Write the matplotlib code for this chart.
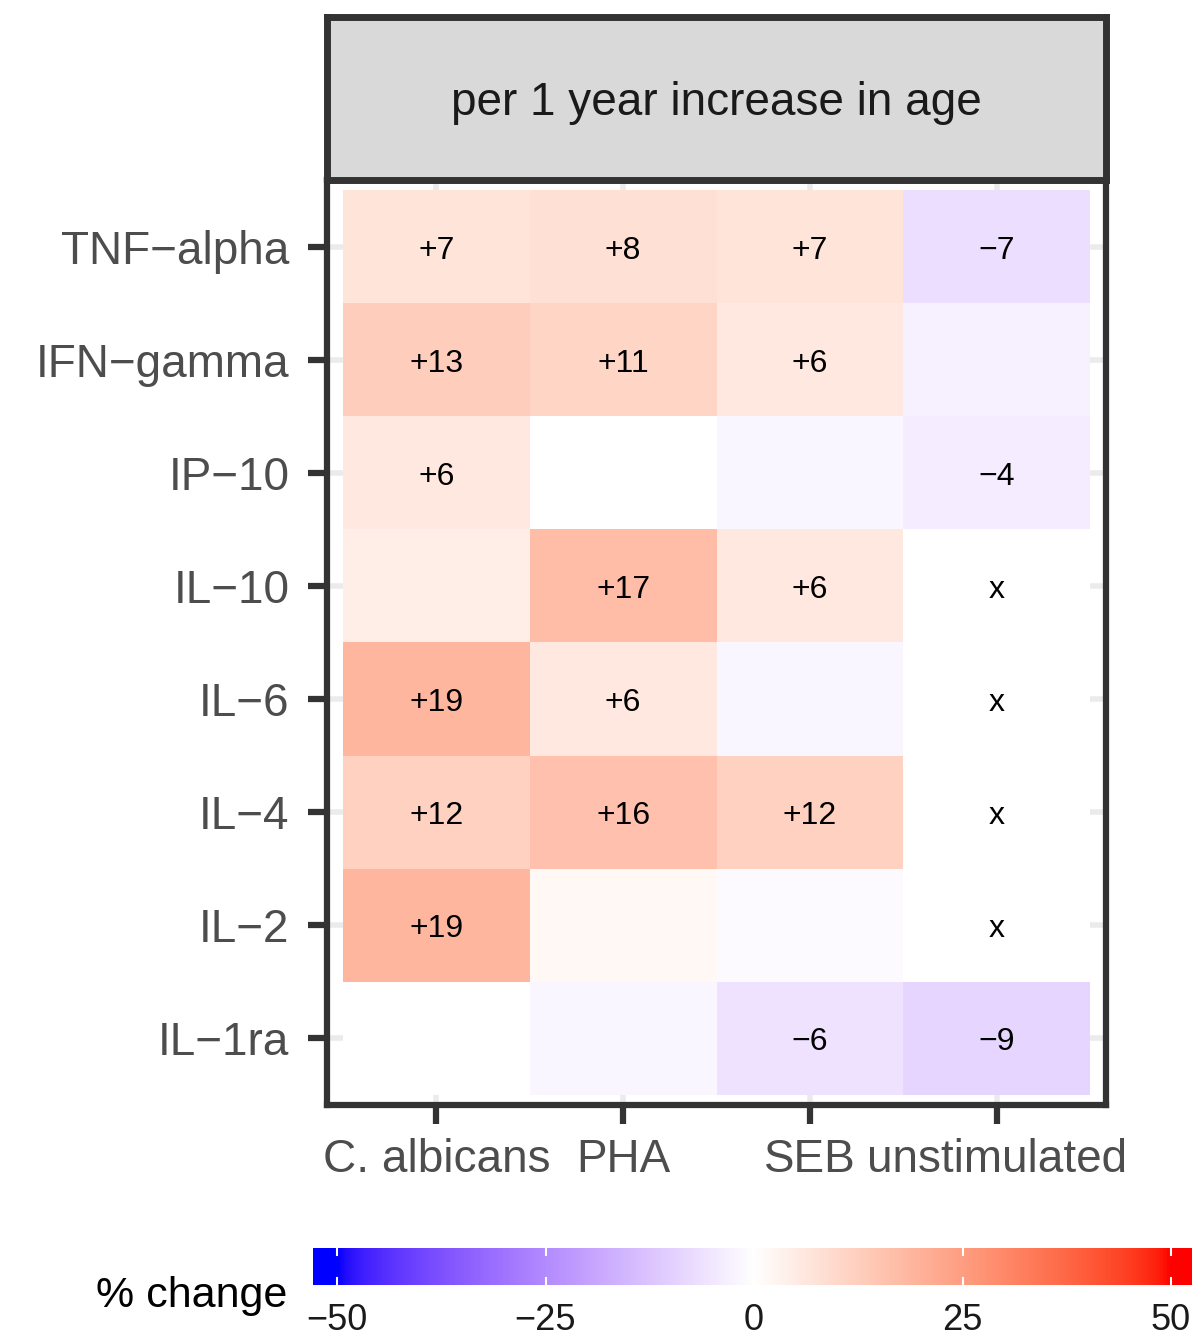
import numpy as np
import matplotlib
matplotlib.use("Agg")
import matplotlib.pyplot as plt
from matplotlib.colors import ListedColormap, Normalize

plt.rcParams['font.family'] = ['Liberation Sans', 'DejaVu Sans']

# ---------------- data ----------------
stimuli = ["C. albicans", "PHA", "SEB", "unstimulated"]
cytokines = ["TNF\u2212alpha", "IFN\u2212gamma", "IP\u221210", "IL\u221210",
             "IL\u22126", "IL\u22124", "IL\u22122", "IL\u22121ra"]
# % change per 1 year increase in age (rows = cytokines, cols = stimuli); None = not available
pct_change = [
    [7, 8, 7, -7],
    [13, 11, 6, -3],
    [6, 0, -2, -4],
    [4.5, 17, 6, None],
    [19, 6, -2, None],
    [12, 16, 12, None],
    [19, 2, -1, None],
    [0, -2, -6, -9],
]
cell_labels = [
    ["+7", "+8", "+7", "\u22127"],
    ["+13", "+11", "+6", ""],
    ["+6", "", "", "\u22124"],
    ["", "+17", "+6", "x"],
    ["+19", "+6", "", "x"],
    ["+12", "+16", "+12", "x"],
    ["+19", "", "", "x"],
    ["", "", "\u22126", "\u22129"],
]
legend_breaks = [-50, -25, 0, 25, 50]
legend_labels = ["\u221250", "\u221225", "0", "25", "50"]
facet_title = "per 1 year increase in age"
legend_title = "% change"

# ------------- colour scale (Lab interpolation, like ggplot gradient2) -------------
def srgb_to_lab(rgb):
    rgb = np.asarray(rgb, float)
    lin = np.where(rgb <= 0.04045, rgb / 12.92, ((rgb + 0.055) / 1.055) ** 2.4)
    M = np.array([[0.4124564, 0.3575761, 0.1804375],
                  [0.2126729, 0.7151522, 0.0721750],
                  [0.0193339, 0.1191920, 0.9503041]])
    xyz = M @ lin
    xyz = xyz / np.array([0.95047, 1.0, 1.08883])
    f = np.where(xyz > 216 / 24389, np.cbrt(xyz), (24389 / 27 * xyz + 16) / 116)
    return np.array([116 * f[1] - 16, 500 * (f[0] - f[1]), 200 * (f[1] - f[2])])

def lab_to_srgb(lab):
    L, a, b = lab
    fy = (L + 16) / 116
    fx = fy + a / 500
    fz = fy - b / 200
    def finv(t):
        return np.where(t ** 3 > 216 / 24389, t ** 3, (116 * t - 16) / (24389 / 27))
    xyz = np.array([finv(fx), finv(fy), finv(fz)]) * np.array([0.95047, 1.0, 1.08883])
    Minv = np.array([[3.2404542, -1.5371385, -0.4985314],
                     [-0.9692660, 1.8760108, 0.0415560],
                     [0.0556434, -0.2040259, 1.0572252]])
    lin = np.clip(Minv @ xyz, 0, 1)
    rgb = np.where(lin <= 0.0031308, 12.92 * lin, 1.055 * lin ** (1 / 2.4) - 0.055)
    return np.clip(rgb, 0, 1)

lab_blue = srgb_to_lab([0, 0, 1])
lab_white = srgb_to_lab([1, 1, 1])
lab_red = srgb_to_lab([1, 0, 0])
cols = []
for t in np.linspace(-1, 1, 511):
    if t < 0:
        lab = lab_white + (-t) * (lab_blue - lab_white)
    else:
        lab = lab_white + t * (lab_red - lab_white)
    cols.append(lab_to_srgb(lab))
cmap = ListedColormap(cols)
cmap.set_bad("white")
norm = Normalize(vmin=-50, vmax=50, clip=True)

# ---------------- figure ----------------
W, H = 1192, 1341
fig = plt.figure(figsize=(W / 100, H / 100), dpi=100)

def fx(px):
    return px / W

def fy(py):
    return 1 - py / H

pl, pr, pt, pb = 327, 1106, 180, 1105
ax = fig.add_axes([fx(pl), fy(pb), fx(pr - pl), (pb - pt) / H])

vals = np.ma.masked_invalid(np.array([[np.nan if v is None else v for v in row] for row in pct_change], float))
nrow, ncol = vals.shape
xe = np.arange(ncol + 1) + 0.5
ye = np.arange(nrow + 1) + 0.5
ax.pcolormesh(xe, ye, vals, cmap=cmap, norm=norm, shading="flat", zorder=1)

for i in range(nrow):
    for j in range(ncol):
        if cell_labels[i][j]:
            ax.text(j + 1, i + 1.035, cell_labels[i][j], ha="center", va="center",
                    fontsize=23, color="black", zorder=3)

padx = 16 / 186.75
pady = 10 / 113.25
ax.set_xlim(0.5 - padx, ncol + 0.5 + padx)
ax.set_ylim(nrow + 0.5 + pady, 0.5 - pady)
ax.set_xticks(np.arange(1, ncol + 1))
ax.set_xticklabels(stimuli)
ax.set_yticks(np.arange(1, nrow + 1))
ax.set_yticklabels(cytokines)
ax.set_axisbelow(True)
ax.grid(True, color="#ebebeb", linewidth=4)
ax.set_facecolor("white")
for s in ax.spines.values():
    s.set_color("#333333")
    s.set_linewidth(4.5)
    s.set_zorder(5)
ax.tick_params(axis="both", direction="out", length=14, width=4.5, color="#333333",
               labelcolor="#4d4d4d", labelsize=33)
ax.tick_params(axis="y", pad=13)
ax.tick_params(axis="x", pad=10)

# facet strip
st = 17
sax = fig.add_axes([fx(pl), fy(pt), fx(pr - pl), (pt - st) / H])
sax.set_facecolor("#d9d9d9")
sax.set_xticks([])
sax.set_yticks([])
for s in sax.spines.values():
    s.set_color("#333333")
    s.set_linewidth(5)
sax.text(0.5, 0.47, facet_title, transform=sax.transAxes, ha="center", va="center",
         fontsize=33, color="#1a1a1a")

# colour bar legend
cb_l, cb_r, cb_t, cb_b = 313, 1197, 1248, 1285
cax = fig.add_axes([fx(cb_l), fy(cb_b), fx(cb_r - cb_l), (cb_b - cb_t) / H])
x0 = -50 - (337 - cb_l) / 8.34
x1 = x0 + (cb_r - cb_l) / 8.34
grad = np.linspace(x0, x1, 800)[None, :]
cax.imshow(grad, cmap=cmap, norm=norm, aspect="auto", extent=(x0, x1, 0, 1),
           interpolation="bilinear")
cax.set_xlim(x0, x1)
cax.set_ylim(0, 1)
cax.set_xticks([])
cax.set_yticks([])
for s in cax.spines.values():
    s.set_visible(False)
for b in legend_breaks:
    cax.plot([b, b], [0, 0.2], color="white", lw=1.5)
    cax.plot([b, b], [0.8, 1], color="white", lw=1.5)
for b, lab in zip(legend_breaks, legend_labels):
    cax.text(b, -0.48, lab, ha="center", va="top", fontsize=26, color="#1a1a1a",
             clip_on=False)

fig.text(fx(287), fy(1296), legend_title, ha="right", va="center", fontsize=31,
         color="black")

fig.savefig("out.png", dpi=100)
